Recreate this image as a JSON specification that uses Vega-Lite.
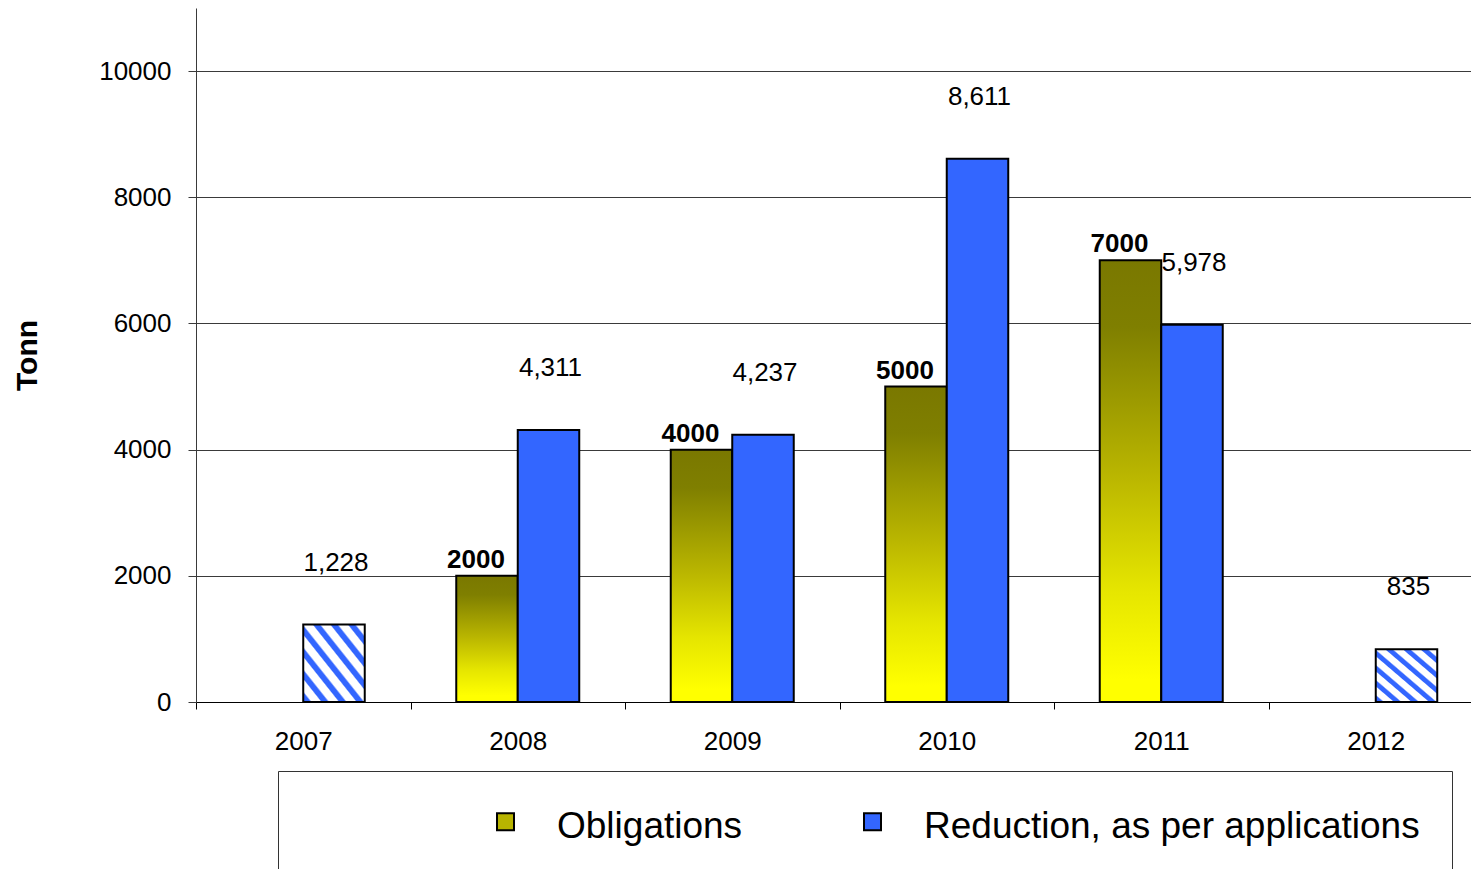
{
  "$schema": "https://vega.github.io/schema/vega-lite/v6.json",
  "width": 1275,
  "height": 694,
  "autosize": {"type": "none"},
  "padding": {"left": 196, "top": 8, "right": 0, "bottom": 167},
  "background": "white",
  "config": {
    "view": {"stroke": null},
    "font": "Liberation Sans",
    "axis": {"labelFont": "Liberation Sans", "titleFont": "Liberation Sans", "labelColor": "black", "titleColor": "black"},
    "legend": {"labelFont": "Liberation Sans", "titleFont": "Liberation Sans"}
  },
  "data": {
    "values": [
      {"year": "2007", "series": "Reduction, as per applications", "value": 1228, "hatched": true},
      {"year": "2008", "series": "Obligations", "value": 2000, "hatched": false},
      {"year": "2008", "series": "Reduction, as per applications", "value": 4311, "hatched": false},
      {"year": "2009", "series": "Obligations", "value": 4000, "hatched": false},
      {"year": "2009", "series": "Reduction, as per applications", "value": 4237, "hatched": false},
      {"year": "2010", "series": "Obligations", "value": 5000, "hatched": false},
      {"year": "2010", "series": "Reduction, as per applications", "value": 8611, "hatched": false},
      {"year": "2011", "series": "Obligations", "value": 7000, "hatched": false},
      {"year": "2011", "series": "Reduction, as per applications", "value": 5978, "hatched": false},
      {"year": "2012", "series": "Reduction, as per applications", "value": 835, "hatched": true}
    ]
  },
  "encoding": {
    "x": {
      "field": "year",
      "type": "nominal",
      "sort": ["2007", "2008", "2009", "2010", "2011", "2012"],
      "scale": {"range": [0, 1287], "paddingInner": 0, "paddingOuter": 0},
      "axis": {
        "title": null,
        "labelAngle": 0,
        "labelFontSize": 26,
        "labelPadding": 19,
        "tickSize": 7,
        "tickBand": "extent",
        "tickColor": "black",
        "domainColor": "black",
        "grid": false
      }
    },
    "xOffset": {
      "field": "series",
      "type": "nominal",
      "scale": {"domain": ["Obligations", "Reduction, as per applications"], "paddingInner": 0, "paddingOuter": 0.744}
    },
    "y": {
      "field": "value",
      "type": "quantitative",
      "scale": {"domain": [0, 11000], "nice": false},
      "axis": {
        "values": [0, 2000, 4000, 6000, 8000, 10000],
        "format": "d",
        "grid": true,
        "gridColor": "#3a3a3a",
        "gridWidth": 1,
        "tickSize": 8,
        "tickColor": "#3a3a3a",
        "domainColor": "#3a3a3a",
        "labelFontSize": 26,
        "labelPadding": 17,
        "title": "Tonn",
        "titleFontSize": 30,
        "titleFontWeight": "bold",
        "titleAngle": 270,
        "titleX": -169,
        "titleY": 347,
        "titleAlign": "center",
        "titleBaseline": "middle"
      }
    }
  },
  "layer": [
    {
      "mark": {"type": "bar", "stroke": "black", "strokeWidth": 2},
      "encoding": {
        "fill": {
          "condition": [
            {
              "test": "datum.hatched",
              "value": {
                "gradient": "linear", "x1": 0, "y1": 1, "x2": 1, "y2": 0,
                "stops": [
                  {"offset": 0, "color": "#ffffff"}, {"offset": 0.012, "color": "#3366ff"}, {"offset": 0.058, "color": "#3366ff"}, {"offset": 0.074, "color": "#ffffff"},
                  {"offset": 0.1429, "color": "#ffffff"}, {"offset": 0.1549, "color": "#3366ff"}, {"offset": 0.2009, "color": "#3366ff"}, {"offset": 0.2169, "color": "#ffffff"},
                  {"offset": 0.2857, "color": "#ffffff"}, {"offset": 0.2977, "color": "#3366ff"}, {"offset": 0.3437, "color": "#3366ff"}, {"offset": 0.3597, "color": "#ffffff"},
                  {"offset": 0.4286, "color": "#ffffff"}, {"offset": 0.4406, "color": "#3366ff"}, {"offset": 0.4866, "color": "#3366ff"}, {"offset": 0.5026, "color": "#ffffff"},
                  {"offset": 0.5714, "color": "#ffffff"}, {"offset": 0.5834, "color": "#3366ff"}, {"offset": 0.6294, "color": "#3366ff"}, {"offset": 0.6454, "color": "#ffffff"},
                  {"offset": 0.7143, "color": "#ffffff"}, {"offset": 0.7263, "color": "#3366ff"}, {"offset": 0.7723, "color": "#3366ff"}, {"offset": 0.7883, "color": "#ffffff"},
                  {"offset": 0.8571, "color": "#ffffff"}, {"offset": 0.8691, "color": "#3366ff"}, {"offset": 0.9151, "color": "#3366ff"}, {"offset": 0.9311, "color": "#ffffff"},
                  {"offset": 1, "color": "#ffffff"}
                ]
              }
            },
            {
              "test": "datum.series == 'Obligations'",
              "value": {
                "gradient": "linear", "x1": 0, "y1": 0, "x2": 0, "y2": 1,
                "stops": [
                  {"offset": 0, "color": "#7a7800"},
                  {"offset": 0.15, "color": "#7f7f00"},
                  {"offset": 0.5, "color": "#bcb800"},
                  {"offset": 0.75, "color": "#e6e600"},
                  {"offset": 0.95, "color": "#ffff00"},
                  {"offset": 1, "color": "#ffff00"}
                ]
              }
            }
          ],
          "field": "series",
          "type": "nominal",
          "scale": {
            "domain": ["Obligations", "Reduction, as per applications"],
            "range": ["#b8b400", "#3366ff"]
          },
          "legend": {
            "orient": "none",
            "legendX": 82,
            "legendY": 763,
            "direction": "horizontal",
            "title": " ",
            "titleOrient": "left",
            "titleFontSize": 1,
            "titlePadding": 177,
            "padding": 32,
            "strokeColor": "#333333",
            "symbolType": "square",
            "symbolSize": 289,
            "symbolStrokeColor": "black",
            "symbolStrokeWidth": 2,
            "symbolOpacity": 1,
            "labelFontSize": 37,
            "labelColor": "black",
            "labelOffset": 33,
            "columnPadding": 111,
            "labelLimit": 1000,
            "encoding": {
              "symbols": {
                "fill": {
                  "condition": {
                    "test": "datum.value == 'Obligations'",
                    "value": {
                      "gradient": "linear", "x1": 0, "y1": 0, "x2": 0, "y2": 1,
                      "stops": [
                        {"offset": 0, "color": "#707000"},
                        {"offset": 0.5, "color": "#c4c000"},
                        {"offset": 1, "color": "#ffff00"}
                      ]
                    }
                  },
                  "value": "#3366ff"
                },
                "stroke": {"value": "black"},
                "strokeWidth": {"value": 2}
              },
              "labels": {
                "dy": {"value": 5}
              }
            }
          }
        }
      }
    },
    {
      "transform": [{"filter": "datum.series == 'Obligations'"}],
      "mark": {"type": "text", "fontWeight": "bold", "fontSize": 26, "baseline": "bottom", "dx": -11, "dy": -3, "color": "black"},
      "encoding": {
        "text": {"field": "value", "type": "quantitative", "format": "d"}
      }
    },
    {
      "transform": [{"filter": "datum.series != 'Obligations'"}],
      "mark": {"type": "text", "fontSize": 26, "baseline": "middle", "dx": 2, "dy": -62, "color": "black"},
      "encoding": {
        "text": {"field": "value", "type": "quantitative", "format": ","}
      }
    }
  ]
}
